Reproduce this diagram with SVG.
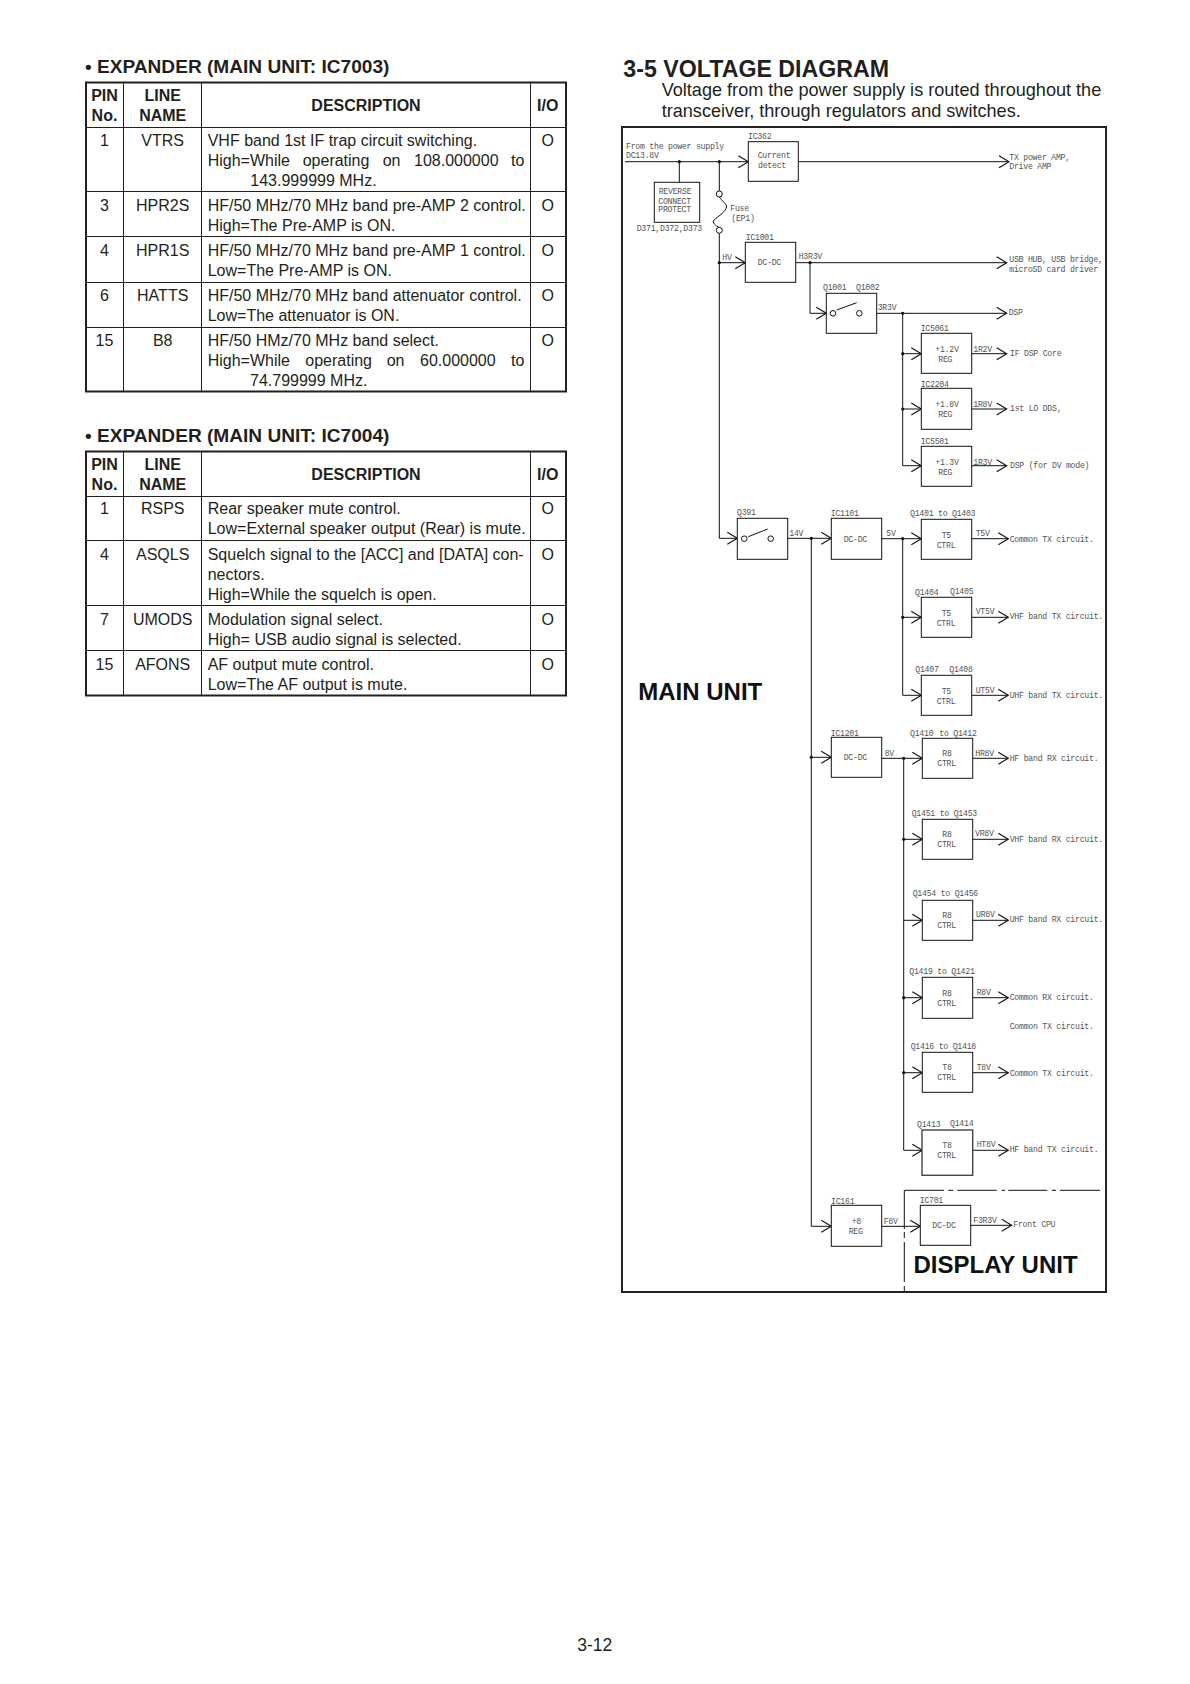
<svg xmlns="http://www.w3.org/2000/svg" width="1190" height="1684" viewBox="0 0 1190 1684">
<defs>
<style>
text{font-family:"Liberation Sans",Arial,sans-serif;fill:#231f20}
.h{font-size:19.1px;font-weight:bold}
.th{font-size:16px;font-weight:bold;text-anchor:middle}
.c{font-size:16px;text-anchor:middle}
.d{font-size:16px}
.tb{fill:none;stroke:#231f20;stroke-width:2}
.tl{fill:none;stroke:#231f20;stroke-width:1}
.m{font-family:"Liberation Mono","Courier New",monospace;font-size:8.2px;letter-spacing:-.25px;fill:#555}
.big{font-size:24px;font-weight:bold;fill:#111}
.box{fill:#fff;stroke:#111;stroke-width:1}
.w{fill:none;stroke:#111;stroke-width:1}
.a{marker-end:url(#arr)}
.ring{fill:#fff;stroke:#111;stroke-width:1}
.dot{fill:#111}
</style>
<marker id="arr" markerUnits="userSpaceOnUse" markerWidth="12" markerHeight="16" refX="11" refY="7" orient="auto">
<path d="M1 1L11 7L1 13" fill="none" stroke="#111" stroke-width="1.1"/>
</marker>
</defs>
<rect width="1190" height="1684" fill="#fff"/>

<g id="table-ic7003">
<text class="h" x="85" y="73">• EXPANDER (MAIN UNIT: IC7003)</text>
<rect class="tb" x="86" y="82.5" width="480" height="309"/>
<path class="tl" d="M123.5 82.5V391.5M201.5 82.5V391.5M530.5 82.5V391.5M86 127.5H566M86 191.5H566M86 236.5H566M86 282.5H566M86 327.5H566"/>
<text class="th" x="104.5" y="101">PIN</text><text class="th" x="104.5" y="121">No.</text>
<text class="th" x="162.7" y="101">LINE</text><text class="th" x="162.7" y="121">NAME</text>
<text class="th" x="366" y="111">DESCRIPTION</text><text class="th" x="547.7" y="111">I/O</text>
<text class="c" x="104.5" y="146">1</text><text class="c" x="162.7" y="146">VTRS</text><text class="c" x="547.7" y="146">O</text>
<text class="d" x="207.7" y="146">VHF band 1st IF trap circuit switching.</text>
<text class="d" y="166"><tspan x="207.7">High=While</tspan><tspan x="302.7">operating</tspan><tspan x="382.7">on</tspan><tspan x="414">108.000000</tspan><tspan x="511">to</tspan></text>
<text class="d" x="250.3" y="186">143.999999 MHz.</text>
<text class="c" x="104.5" y="211">3</text><text class="c" x="162.7" y="211">HPR2S</text><text class="c" x="547.7" y="211">O</text>
<text class="d" x="207.7" y="211">HF/50 MHz/70 MHz band pre-AMP 2 control.</text>
<text class="d" x="207.7" y="231">High=The Pre-AMP is ON.</text>
<text class="c" x="104.5" y="256">4</text><text class="c" x="162.7" y="256">HPR1S</text><text class="c" x="547.7" y="256">O</text>
<text class="d" x="207.7" y="256">HF/50 MHz/70 MHz band pre-AMP 1 control.</text>
<text class="d" x="207.7" y="276">Low=The Pre-AMP is ON.</text>
<text class="c" x="104.5" y="301">6</text><text class="c" x="162.7" y="301">HATTS</text><text class="c" x="547.7" y="301">O</text>
<text class="d" x="207.7" y="301">HF/50 MHz/70 MHz band attenuator control.</text>
<text class="d" x="207.7" y="321">Low=The attenuator is ON.</text>
<text class="c" x="104.5" y="346">15</text><text class="c" x="162.7" y="346">B8</text><text class="c" x="547.7" y="346">O</text>
<text class="d" x="207.7" y="346">HF/50 HMz/70 MHz band select.</text>
<text class="d" y="366"><tspan x="207.7">High=While</tspan><tspan x="305.3">operating</tspan><tspan x="386.7">on</tspan><tspan x="420">60.000000</tspan><tspan x="511">to</tspan></text>
<text class="d" x="250" y="386">74.799999 MHz.</text>
</g>

<g id="table-ic7004">
<text class="h" x="85" y="442">• EXPANDER (MAIN UNIT: IC7004)</text>
<rect class="tb" x="86" y="451.5" width="480" height="244"/>
<path class="tl" d="M123.5 451.5V695.5M201.5 451.5V695.5M530.5 451.5V695.5M86 496.5H566M86 540.5H566M86 605.5H566M86 650.5H566"/>
<text class="th" x="104.5" y="470">PIN</text><text class="th" x="104.5" y="490">No.</text>
<text class="th" x="162.7" y="470">LINE</text><text class="th" x="162.7" y="490">NAME</text>
<text class="th" x="366" y="480">DESCRIPTION</text><text class="th" x="547.7" y="480">I/O</text>
<text class="c" x="104.5" y="514">1</text><text class="c" x="162.7" y="514">RSPS</text><text class="c" x="547.7" y="514">O</text>
<text class="d" x="207.7" y="514">Rear speaker mute control.</text>
<text class="d" x="207.7" y="534">Low=External speaker output (Rear) is mute.</text>
<text class="c" x="104.5" y="560">4</text><text class="c" x="162.7" y="560">ASQLS</text><text class="c" x="547.7" y="560">O</text>
<text class="d" x="207.7" y="560">Squelch signal to the [ACC] and [DATA] con-</text>
<text class="d" x="207.7" y="580">nectors.</text>
<text class="d" x="207.7" y="600">High=While the squelch is open.</text>
<text class="c" x="104.5" y="625">7</text><text class="c" x="162.7" y="625">UMODS</text><text class="c" x="547.7" y="625">O</text>
<text class="d" x="207.7" y="625">Modulation signal select.</text>
<text class="d" x="207.7" y="645">High= USB audio signal is selected.</text>
<text class="c" x="104.5" y="670">15</text><text class="c" x="162.7" y="670">AFONS</text><text class="c" x="547.7" y="670">O</text>
<text class="d" x="207.7" y="670">AF output mute control.</text>
<text class="d" x="207.7" y="690">Low=The AF output is mute.</text>
</g>

<g id="section-title">
<text x="623.3" y="76.7" font-size="23.2" font-weight="bold">3-5</text>
<text x="663.3" y="76.7" font-size="23.2" font-weight="bold">VOLTAGE DIAGRAM</text>
<text x="661.7" y="96" font-size="18.1">Voltage from the power supply is routed throughout the</text>
<text x="661.7" y="117.3" font-size="18.1">transceiver, through regulators and switches.</text>
</g>

<rect id="frame" x="622" y="127" width="484" height="1165" fill="none" stroke="#222" stroke-width="2"/>

<g id="connectors">
<path class="w a" d="M625 161.7H748.3"/>
<path class="w" d="M679.3 161.7V182.3M719.3 161.7V191"/>
<path class="w" d="M719.3 197C722 201 727 204 726.5 207C726 211 719 216 714 220C711.5 222.5 716 226 719.3 227.5"/>
<path class="w a" d="M719.3 233.3V538.3H737.3"/>
<path class="w a" d="M719.3 262.7H745.3"/>
<path class="w a" d="M798.3 161.7H1009"/>
<path class="w a" d="M795.7 262.7H1006.7"/>
<path class="w a" d="M810 262.7V313.3H826.3"/>
<path class="w a" d="M862.3 313.3H1006.7"/>
<path class="w a" d="M902.7 353.7H921.3"/>
<path class="w a" d="M902.7 409H921.3"/>
<path class="w a" d="M902.7 313.3V465.7H921.3"/>
<path class="w a" d="M971.7 353.7H1006.7"/>
<path class="w a" d="M971.7 409H1006.7"/>
<path class="w a" d="M971.7 465.7H1006.7"/>
<path class="w a" d="M773.7 538.3H831.3"/>
<path class="w a" d="M811.3 538.3V1226.3H831.3"/>
<path class="w a" d="M811.3 757.3H831.3"/>
<path class="w a" d="M881.7 538.7H921.3"/>
<path class="w a" d="M902.7 617.3H921.3"/>
<path class="w a" d="M902.7 538.7V695.3H921.3"/>
<path class="w a" d="M971.7 538.7H1008.3"/>
<path class="w a" d="M971.7 617.3H1008.3"/>
<path class="w a" d="M971.7 695.3H1008.3"/>
<path class="w a" d="M881.7 758.3H922.3"/>
<path class="w a" d="M903.7 839.3H922.3"/>
<path class="w a" d="M903.7 920.3H922.3"/>
<path class="w a" d="M903.7 997.7H922.3"/>
<path class="w a" d="M903.7 1072.7H922.3"/>
<path class="w a" d="M903.7 758.3V1150.3H922.3"/>
<path class="w a" d="M972.7 758.3H1008.3"/>
<path class="w a" d="M972.7 839.3H1008.3"/>
<path class="w a" d="M972.7 920.3H1008.3"/>
<path class="w a" d="M972.7 997.7H1008.3"/>
<path class="w a" d="M972.7 1072.7H1008.3"/>
<path class="w a" d="M972.7 1150.3H1008.3"/>
<path class="w a" d="M881.7 1226.3H920.3"/>
<path class="w a" d="M970.7 1225.3H1011.7"/>
<g class="dot">
<circle cx="679.3" cy="161.7" r="1.6"/><circle cx="719.3" cy="161.7" r="1.6"/><circle cx="719.3" cy="262.7" r="1.6"/><circle cx="810" cy="262.7" r="1.6"/>
<circle cx="902.7" cy="313.3" r="1.6"/><circle cx="902.7" cy="353.7" r="1.6"/><circle cx="902.7" cy="409" r="1.6"/>
<circle cx="811.3" cy="538.3" r="1.6"/><circle cx="902.7" cy="538.7" r="1.6"/><circle cx="902.7" cy="617.3" r="1.6"/>
<circle cx="811.3" cy="757.3" r="1.6"/><circle cx="903.7" cy="758.3" r="1.6"/><circle cx="903.7" cy="839.3" r="1.6"/><circle cx="903.7" cy="997.7" r="1.6"/><circle cx="903.7" cy="1072.7" r="1.6"/>
</g>
<path class="w" d="M904.3 1190.3H944M948.3 1190.3H953.3M957.3 1190.3H996.7M1001.7 1190.3H1005M1008.3 1190.3H1047.3M1051.7 1190.3H1056M1060 1190.3H1100M904.3 1190.3V1229M904.3 1232V1238M904.3 1242V1282M904.3 1286V1291"/>
</g>

<g id="source-label"><text class="m" x="626" y="149.3">From the power supply</text><text class="m" x="626" y="158">DC13.8V</text></g>

<g id="IC362"><rect class="box" x="748.3" y="141.7" width="50" height="39.6"/><text class="m" x="748" y="139">IC362</text><text class="m" x="757.7" y="158.3">Current</text><text class="m" x="758" y="168.3">detect</text></g>
<g id="out-tx-power"><text class="m" x="1009.3" y="160">TX power AMP,</text><text class="m" x="1009.3" y="169">Drive AMP</text></g>
<g id="reverse-protect"><rect class="box" x="654.3" y="182.3" width="45.4" height="40"/><text class="m" x="658.7" y="194">REVERSE</text><text class="m" x="658.3" y="204">CONNECT</text><text class="m" x="658.3" y="212">PROTECT</text><text class="m" x="636.7" y="231">D371,D372,D373</text></g>
<g id="fuse"><circle class="ring" cx="719.3" cy="194" r="3"/><circle class="ring" cx="719.3" cy="230.3" r="3"/><text class="m" x="730.3" y="211">Fuse</text><text class="m" x="731.3" y="221">(EP1)</text></g>
<g id="IC1001"><rect class="box" x="745.3" y="242.3" width="50.4" height="40"/><text class="m" x="745.7" y="240">IC1001</text><text class="m" x="757.7" y="265">DC-DC</text><text class="m" x="722.3" y="260">HV</text><text class="m" x="798.7" y="259">H3R3V</text></g>
<g id="out-usb"><text class="m" x="1009.3" y="262">USB HUB, USB bridge,</text><text class="m" x="1009.3" y="272">microSD card driver</text></g>
<g id="Q1001"><rect class="box" x="826.3" y="293.3" width="50.4" height="40"/><circle class="ring" cx="833" cy="313.3" r="2.8"/><circle class="ring" cx="859.3" cy="313.3" r="2.8"/><path class="w" d="M836.7 310L856.7 302.7"/><text class="m" x="823" y="290">Q1001</text><text class="m" x="856" y="290">Q1002</text><text class="m" x="877.7" y="310">3R3V</text><text class="m" x="1008.7" y="315">DSP</text></g>
<g id="IC5061"><rect class="box" x="921.3" y="333.3" width="50.4" height="40"/><text class="m" x="920.7" y="331">IC5061</text><text class="m" x="935.3" y="352">+1.2V</text><text class="m" x="938.3" y="362">REG</text><text class="m" x="973.3" y="352">1R2V</text><text class="m" x="1010" y="356">IF DSP Core</text></g>
<g id="IC2204"><rect class="box" x="921.3" y="388.3" width="50.4" height="41"/><text class="m" x="920.7" y="387">IC2204</text><text class="m" x="935.3" y="407">+1.8V</text><text class="m" x="938.3" y="417">REG</text><text class="m" x="973.3" y="407">1R8V</text><text class="m" x="1010" y="411">1st LO DDS,</text></g>
<g id="IC5501"><rect class="box" x="921.3" y="446.3" width="50.4" height="40"/><text class="m" x="920.7" y="444">IC5501</text><text class="m" x="935.3" y="465">+1.3V</text><text class="m" x="938.3" y="475">REG</text><text class="m" x="973.3" y="465">1R3V</text><text class="m" x="1010" y="468">DSP (for DV mode)</text></g>
<g id="Q391"><rect class="box" x="737.3" y="518.3" width="50.4" height="41"/><circle class="ring" cx="744.3" cy="538.7" r="2.8"/><circle class="ring" cx="770.7" cy="538.7" r="2.8"/><path class="w" d="M748.3 536.7L767.7 529"/><text class="m" x="737" y="515">Q391</text><text class="m" x="789.3" y="536">14V</text></g>
<g id="IC1101"><rect class="box" x="831.3" y="518.3" width="50.4" height="41"/><text class="m" x="830.7" y="516">IC1101</text><text class="m" x="843.7" y="542">DC-DC</text><text class="m" x="886.3" y="536">5V</text></g>
<g id="Q1401"><rect class="box" x="921.3" y="519.3" width="50.4" height="40"/><text class="m" x="910" y="516">Q1401 to Q1403</text><text class="m" x="941.7" y="538">T5</text><text class="m" x="936.7" y="548">CTRL</text><text class="m" x="975.7" y="536">T5V</text><text class="m" x="1009.7" y="542">Common TX circuit.</text></g>
<g id="Q1404"><rect class="box" x="921.3" y="597.3" width="50.4" height="40"/><text class="m" x="915" y="595">Q1404</text><text class="m" x="950" y="594">Q1405</text><text class="m" x="941.7" y="616">T5</text><text class="m" x="936.7" y="626">CTRL</text><text class="m" x="975.7" y="614">VT5V</text><text class="m" x="1009.7" y="619">VHF band TX circuit.</text></g>
<g id="Q1407"><rect class="box" x="921.3" y="675.3" width="50.4" height="40"/><text class="m" x="915.3" y="672">Q1407</text><text class="m" x="949.3" y="672">Q1408</text><text class="m" x="941.7" y="694">T5</text><text class="m" x="936.7" y="704">CTRL</text><text class="m" x="975.7" y="693">UT5V</text><text class="m" x="1009.7" y="698">UHF band TX circuit.</text></g>
<g id="main-unit-label"><text class="big" x="638.3" y="700">MAIN UNIT</text></g>
<g id="IC1201"><rect class="box" x="831.3" y="737.3" width="50.4" height="40"/><text class="m" x="830.7" y="736">IC1201</text><text class="m" x="843.7" y="760">DC-DC</text><text class="m" x="884.7" y="756">8V</text></g>
<g id="Q1410"><rect class="box" x="922.3" y="738.3" width="50.4" height="40"/><text class="m" x="910" y="735.7">Q1410</text><text class="m" x="939.3" y="736">to Q1412</text><text class="m" x="942.3" y="756">R8</text><text class="m" x="937.3" y="766">CTRL</text><text class="m" x="975.3" y="756">HR8V</text><text class="m" x="1009.7" y="761">HF band RX circuit.</text></g>
<g id="Q1451"><rect class="box" x="922.3" y="819.3" width="50.4" height="40"/><text class="m" x="911.7" y="816">Q1451 to Q1453</text><text class="m" x="942.3" y="837">R8</text><text class="m" x="937.3" y="847">CTRL</text><text class="m" x="975" y="836">VR8V</text><text class="m" x="1009.7" y="842">VHF band RX circuit.</text></g>
<g id="Q1454"><rect class="box" x="922.3" y="900.3" width="50.4" height="40"/><text class="m" x="912.7" y="896.3">Q1454 to Q1456</text><text class="m" x="942.3" y="918">R8</text><text class="m" x="937.3" y="928">CTRL</text><text class="m" x="976" y="917">UR8V</text><text class="m" x="1009.7" y="922">UHF band RX circuit.</text></g>
<g id="Q1419"><rect class="box" x="922.3" y="977.3" width="50.4" height="41"/><text class="m" x="909.3" y="974">Q1419 to Q1421</text><text class="m" x="942.3" y="996">R8</text><text class="m" x="937.3" y="1006">CTRL</text><text class="m" x="976.7" y="995">R8V</text><text class="m" x="1009.7" y="1000">Common RX circuit.</text><text class="m" x="1009.7" y="1029">Common TX circuit.</text></g>
<g id="Q1416"><rect class="box" x="922.3" y="1052.3" width="50.4" height="40"/><text class="m" x="910.7" y="1049">Q1416 to Q1418</text><text class="m" x="942.3" y="1070">T8</text><text class="m" x="937.3" y="1080">CTRL</text><text class="m" x="976.7" y="1070">T8V</text><text class="m" x="1009.7" y="1076">Common TX circuit.</text></g>
<g id="Q1413"><rect class="box" x="922" y="1130" width="50.7" height="45.3" style="stroke:#444;stroke-width:1.4"/><text class="m" x="917" y="1127">Q1413</text><text class="m" x="950" y="1126">Q1414</text><text class="m" x="942.3" y="1148">T8</text><text class="m" x="937.3" y="1158">CTRL</text><text class="m" x="976.7" y="1147">HT8V</text><text class="m" x="1009.7" y="1152">HF band TX circuit.</text></g>
<g id="IC161"><rect class="box" x="831.3" y="1205.3" width="50.4" height="41"/><text class="m" x="831" y="1204">IC161</text><text class="m" x="851.7" y="1224">+8</text><text class="m" x="848.7" y="1234">REG</text><text class="m" x="883.7" y="1224">F8V</text></g>
<g id="IC701"><rect class="box" x="920.3" y="1205.3" width="50.4" height="40"/><text class="m" x="919.7" y="1203">IC701</text><text class="m" x="932.3" y="1228.3">DC-DC</text><text class="m" x="973.3" y="1223.3">F3R3V</text><text class="m" x="1013.3" y="1227">Front CPU</text></g>
<g id="display-unit-label"><text class="big" x="913.5" y="1272.7">DISPLAY UNIT</text></g>
<text id="page-number" x="594.8" y="1650.5" font-size="17.5" text-anchor="middle">3-12</text>
</svg>
